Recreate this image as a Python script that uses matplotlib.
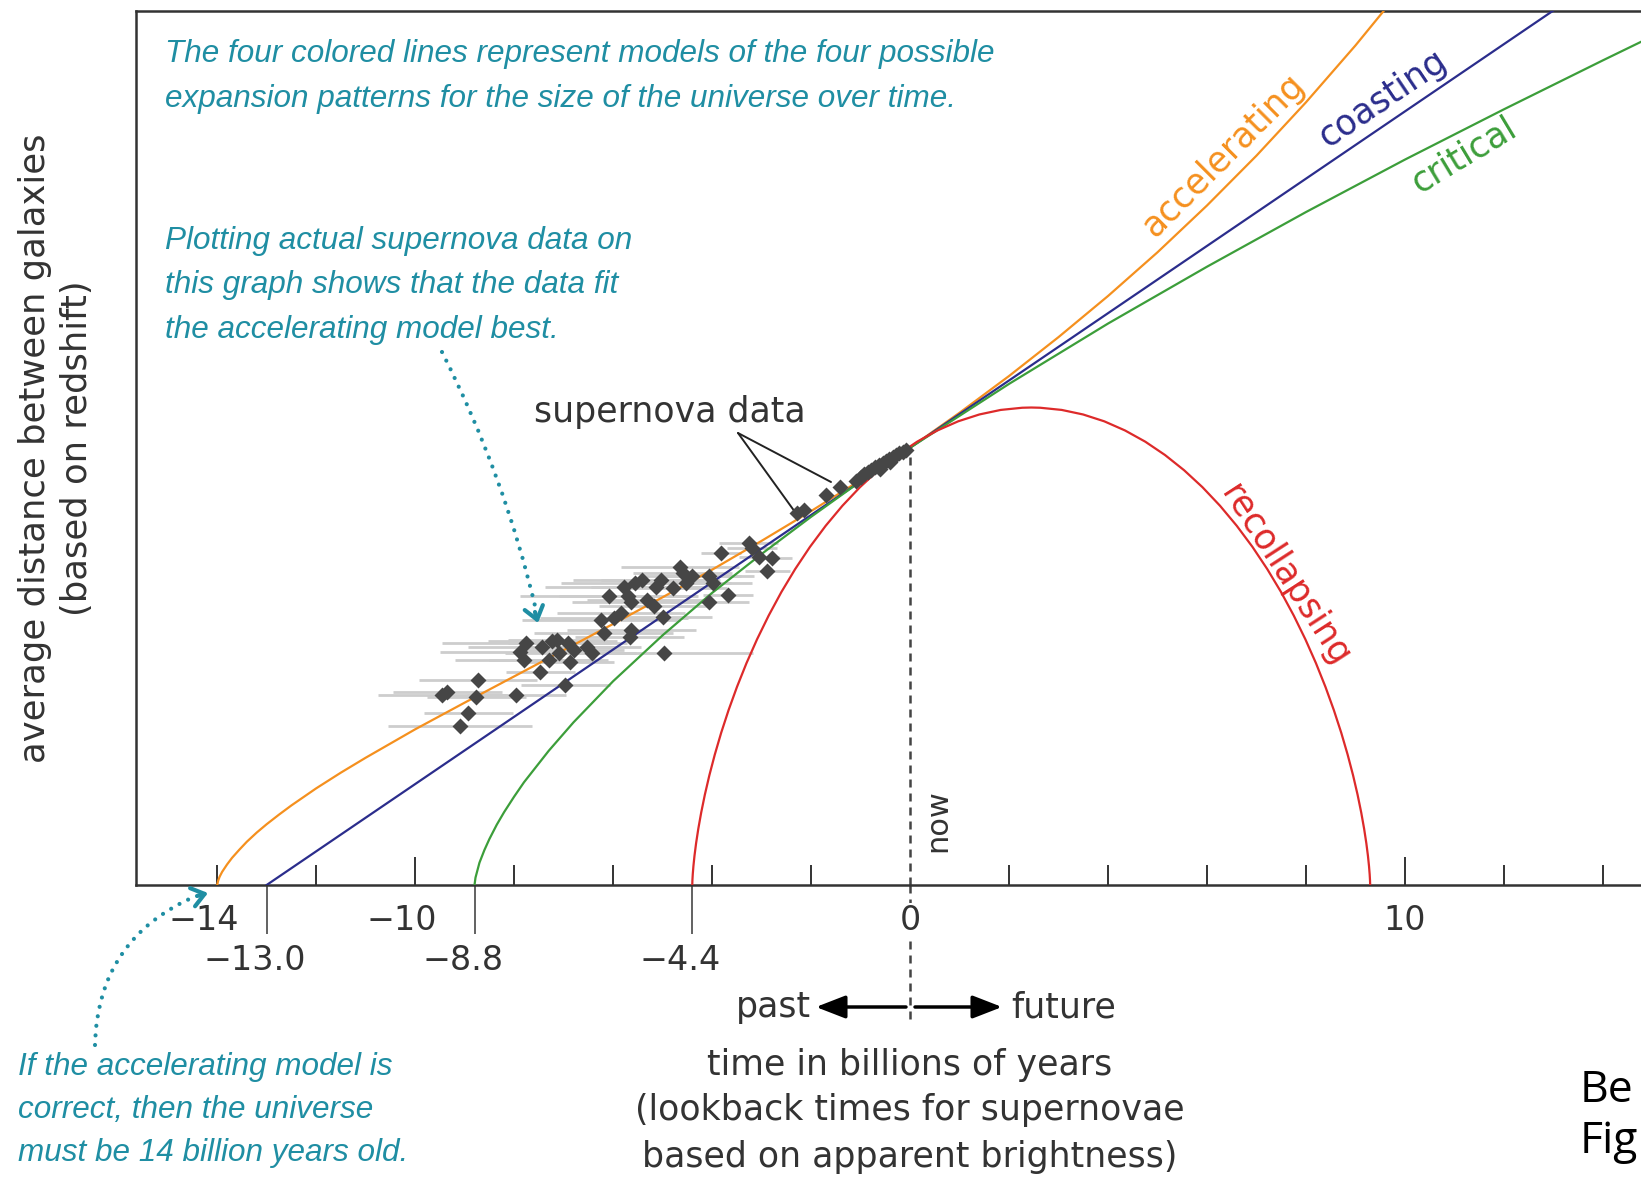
import matplotlib
matplotlib.use("Agg")
import matplotlib.pyplot as plt
from matplotlib.patches import FancyArrowPatch
from matplotlib.transforms import offset_copy
from matplotlib import font_manager

W, H = 1641, 1179

# time (billions of years) and relative distance
acc_t = [-14, -13.98, -13.95, -13.9, -13.8, -13.7, -13.55, -13.4, -13.2, -13, -12.75, -12.5,
         -12, -11.5, -11, -10, -9, -8, -7, -6, -5, -4, -3, -2, -1, 0, 1, 2, 3, 4, 5, 6, 7, 8,
         9, 9.6]
acc_a = [0, 0.010, 0.019, 0.030, 0.047, 0.062, 0.081, 0.099, 0.120, 0.139, 0.161, 0.182,
         0.221, 0.257, 0.291, 0.356, 0.417, 0.477, 0.537, 0.597, 0.658, 0.721, 0.787, 0.855,
         0.926, 1.0, 1.080, 1.164, 1.253, 1.347, 1.447, 1.554, 1.668, 1.790, 1.920, 2.003]

coast_t = [-13, 13]
coast_a = [0, 2.0]

crit_t = [-8.8, -8.78, -8.7, -8.6, -8.5, -8.35, -8.2, -8.0, -7.8, -7.3, -6.8, -6, -5, -4, -3,
          -2, -1, 0, 2, 4, 6, 8, 10, 12, 14, 15]
crit_a = [0, 0.017, 0.051, 0.080, 0.105, 0.138, 0.167, 0.202, 0.235, 0.307, 0.372, 0.466,
          0.571, 0.668, 0.757, 0.842, 0.923, 1.0, 1.146, 1.284, 1.414, 1.539, 1.659, 1.774,
          1.886, 1.941]

rec_t = [-4.4, -4.3996, -4.3971, -4.3902, -4.3769, -4.3552, -4.3229, -4.2784, -4.2198,
         -4.1457, -4.0544, -3.9448, -3.8158, -3.6666, -3.4963, -3.3045, -3.0911, -2.8558,
         -2.5990, -2.3209, -2.0223, -1.7038, -1.3665, -1.0116, -0.6405, -0.2547, 0.1442,
         0.5543, 0.9737, 1.4004, 1.8324, 2.2674, 2.4487, 2.6299, 3.0649, 3.4969, 3.9236,
         4.3430, 4.7531, 5.1520, 5.5378, 5.9089, 6.2638, 6.6011, 6.9196, 7.2182, 7.4963,
         7.7531, 7.9884, 8.2018, 8.3936, 8.5639, 8.7131, 8.8421, 8.9517, 9.0430, 9.1171,
         9.1757, 9.2202, 9.2525, 9.2742, 9.2875, 9.2944, 9.2969, 9.2973]
rec_a = [0, 0.0027, 0.0109, 0.0244, 0.0431, 0.0668, 0.0954, 0.1284, 0.1656, 0.2066, 0.2510,
         0.2983, 0.3482, 0.3999, 0.4532, 0.5074, 0.5619, 0.6163, 0.6701, 0.7225, 0.7732,
         0.8216, 0.8673, 0.9098, 0.9486, 0.9834, 1.0139, 1.0396, 1.0605, 1.0761, 1.0865,
         1.0915, 1.0920, 1.0915, 1.0865, 1.0761, 1.0605, 1.0396, 1.0139, 0.9834, 0.9486,
         0.9098, 0.8673, 0.8216, 0.7732, 0.7225, 0.6701, 0.6163, 0.5619, 0.5074, 0.4532,
         0.3999, 0.3482, 0.2983, 0.2510, 0.2066, 0.1656, 0.1284, 0.0954, 0.0668, 0.0431,
         0.0244, 0.0109, 0.0027, 0]

sn_t = [-9.45, -9.35, -8.73, -8.76, -8.93, -9.09, -7.96, -7.47, -6.97, -7.89, -7.75, -7.79,
        -7.44, -7.30, -7.23, -7.13, -7.09, -6.92, -6.88, -6.78, -6.53, -6.43, -6.25, -6.19,
        -6.08, -5.98, -5.84, -5.77, -5.70, -5.63, -5.63, -5.66, -5.56, -5.42, -5.32, -5.18,
        -5.14, -5.04, -5.00, -4.97, -4.79, -4.65, -4.59, -4.52, -4.41, -4.06, -3.99, -4.06,
        -3.68, -3.82, -3.26, -3.19, -3.05, -2.78, -2.88, -2.29, -2.15, -1.70, -1.42,
        -1.10, -1.00, -0.92, -0.85, -0.78, -0.70, -0.62, -0.60, -0.55, -0.48, -0.42, -0.40,
        -0.35, -0.28, -0.22, -0.15, -0.08]
sn_a = [0.435, 0.442, 0.469, 0.431, 0.393, 0.364, 0.435, 0.487, 0.458, 0.534, 0.553, 0.515,
        0.545, 0.515, 0.557, 0.561, 0.530, 0.553, 0.511, 0.538, 0.545, 0.530, 0.606, 0.576,
        0.660, 0.610, 0.621, 0.682, 0.660, 0.648, 0.584, 0.568, 0.690, 0.698, 0.652, 0.637,
        0.682, 0.698, 0.614, 0.530, 0.679, 0.728, 0.713, 0.690, 0.706, 0.706, 0.690, 0.648,
        0.664, 0.759, 0.782, 0.770, 0.751, 0.747, 0.717, 0.850, 0.858, 0.892, 0.911,
        0.925, 0.932, 0.940, 0.945, 0.948, 0.955, 0.960, 0.952, 0.966, 0.970, 0.975, 0.968,
        0.978, 0.983, 0.987, 0.990, 0.995]
sn_err = [1.3, 1.1, 1.2, 1.0, 0.9, 1.45, 1.0, 0.7, 0.9, 1.6, 1.7, 1.4, 1.5, 1.2, 1.3, 1.0,
          1.1, 1.2, 0.9, 1.0, 1.1, 0.9, 1.6, 1.4, 1.8, 1.5, 1.3, 1.6, 1.4, 1.2, 1.3, 1.1, 1.5,
          1.4, 1.2, 1.1, 1.3, 1.2, 1.0, 1.8, 1.1, 1.2, 1.0, 0.9, 1.0, 0.9, 0.8, 0.8, 0.5, 0.4,
          0.6, 0.5, 0.4, 0.4, 0.45, 0.1, 0.1, 0.1, 0.1,
          0, 0, 0, 0, 0, 0, 0, 0, 0, 0, 0, 0, 0, 0, 0, 0, 0]

row1_ticks = [-14, -10, 0, 10]
row1_labels = ["\u221214", "\u221210", "0", "10"]
row2_ticks = [-13.0, -8.8, -4.4]
row2_labels = ["\u221213.0", "\u22128.8", "\u22124.4"]
minor_ticks = [-14, -12, -8, -6, -4, -2, 2, 4, 6, 8, 12, 14]
major_ticks = [-10, 10]

TEAL = "#1f8ea3"
GREY = "#333333"
names = {f.name for f in font_manager.fontManager.ttflist}
teal_font = "Liberation Sans Narrow" if "Liberation Sans Narrow" in names else "Liberation Sans"
teal_size = 24 if teal_font == "Liberation Sans Narrow" else 22.7
plt.rcParams["font.family"] = ["DejaVu Sans"]


def px(x, y):
    return (x / W, 1 - y / H)


fig = plt.figure(figsize=(W / 100, H / 100), dpi=100)
ax = fig.add_axes([136 / W, 1 - 885 / H, 1 - 136 / W, (885 - 10.5) / H])
ax.set_xlim(-15.64, 14.77)
ax.set_ylim(0, 2.0)
for s in ["left", "bottom", "top"]:
    ax.spines[s].set_color(GREY)
    ax.spines[s].set_linewidth(1.8)
ax.spines["right"].set_visible(False)
ax.set_yticks([])
ax.set_xticks(major_ticks)
ax.set_xticks(minor_ticks, minor=True)
ax.tick_params(which="major", direction="in", length=20, width=1.4, color=GREY, labelbottom=False)
ax.tick_params(which="minor", direction="in", length=14.5, width=1.4, color=GREY)

sec = ax.secondary_xaxis("bottom")
sec.set_xticks(row2_ticks)
sec.tick_params(direction="out", length=35, width=1.3, color="#555555", labelbottom=False)
sec.spines["bottom"].set_visible(False)

# model curves
ax.plot(acc_t, acc_a, color="#f5901e", lw=1.6, zorder=3)
ax.plot(coast_t, coast_a, color="#2b2d8c", lw=1.6, zorder=3)
ax.plot(crit_t, crit_a, color="#3c9e3a", lw=1.6, zorder=3)
ax.plot(rec_t, rec_a, color="#dd2a2a", lw=1.6, zorder=3)

# supernova data
ax.errorbar(sn_t, sn_a, xerr=sn_err, fmt="none", ecolor="#cdcdcd", elinewidth=2, zorder=1)
ax.plot(sn_t, sn_a, "D", color="#464646", ms=8.5, mec="none", zorder=4)

# "now" line
ax.plot([0, 0], [0, 1.0], color="#444444", lw=1.8, linestyle=(0, (3.2, 2.4)), zorder=2)
ax.plot([0, 0], [0, -0.154], transform=ax.get_xaxis_transform(), clip_on=False,
        color="#444444", lw=1.8, linestyle=(0, (3.2, 2.4)))

# tick labels
for t, lab in zip(row1_ticks, row1_labels):
    dx = -13 if t < 0 else 0
    tr = offset_copy(ax.get_xaxis_transform(), fig=fig, x=dx, y=-36, units="dots")
    ax.text(t, 0, lab, transform=tr, ha="center", va="center", fontsize=24, color=GREY,
            bbox=dict(facecolor="white", edgecolor="none", pad=1) if t == 0 else None)
for t, lab in zip(row2_ticks, row2_labels):
    tr = offset_copy(ax.get_xaxis_transform(), fig=fig, x=-12, y=-75, units="dots")
    ax.text(t, 0, lab, transform=tr, ha="center", va="center", fontsize=24, color=GREY)

# curve labels
fig.text(*px(1224, 155), "accelerating", rotation=45, color="#f5901e", fontsize=25,
         ha="center", va="center", rotation_mode="anchor")
fig.text(*px(1383, 99), "coasting", rotation=34, color="#2b2d8c", fontsize=25,
         ha="center", va="center", rotation_mode="anchor")
fig.text(*px(1464, 155), "critical", rotation=31, color="#3c9e3a", fontsize=25,
         ha="center", va="center", rotation_mode="anchor")
fig.text(*px(1285, 576), "recollapsing", rotation=-57, color="#dd2a2a", fontsize=25,
         ha="center", va="center", rotation_mode="anchor")
fig.text(*px(938, 821), "now", rotation=90, color=GREY, fontsize=22, ha="center", va="center")

# axis titles
fig.text(*px(35, 448), "average distance between galaxies", rotation=90, fontsize=25.5,
         color=GREY, ha="center", va="center")
fig.text(*px(77, 448), "(based on redshift)", rotation=90, fontsize=25.5,
         color=GREY, ha="center", va="center")
for y, s in zip([1065, 1110, 1157], ["time in billions of years",
                                     "(lookback times for supernovae",
                                     "based on apparent brightness)"]):
    fig.text(*px(910, y), s, fontsize=25, color=GREY, ha="center", va="center")

fig.text(*px(811, 1007), "past", fontsize=25, color=GREY, ha="right", va="center")
fig.text(*px(1011, 1007), "future", fontsize=25, color=GREY, ha="left", va="center")
arr = dict(arrowstyle="-|>,head_length=0.9,head_width=0.35", color="black", lw=2.5,
           mutation_scale=20, shrinkA=0, shrinkB=0)
fig.add_artist(FancyArrowPatch(px(906, 1007), px(816, 1007), transform=fig.transFigure, **arr))
fig.add_artist(FancyArrowPatch(px(915, 1007), px(1002, 1007), transform=fig.transFigure, **arr))

# supernova data label
fig.text(*px(670, 412), "supernova data", fontsize=25, color=GREY, ha="center", va="center")
for end in [(795, 512), (831, 482)]:
    ax.annotate("", xy=px(*end), xycoords="figure fraction", xytext=px(738, 433),
                textcoords="figure fraction",
                arrowprops=dict(arrowstyle="-", color="#222222", lw=1.4, shrinkA=0, shrinkB=0))

# teal notes
tfont = dict(family=teal_font, style="italic", fontsize=teal_size, color=TEAL,
             ha="left", va="center")
fig.text(*px(165, 54), "The four colored lines represent models of the four possible", **tfont)
fig.text(*px(165, 99), "expansion patterns for the size of the universe over time.", **tfont)
for y, s in zip([241, 285, 330], ["Plotting actual supernova data on",
                                  "this graph shows that the data fit",
                                  "the accelerating model best."]):
    fig.text(*px(165, y), s, **tfont)
for y, s in zip([1067, 1110, 1153], ["If the accelerating model is",
                                     "correct, then the universe",
                                     "must be 14 billion years old."]):
    fig.text(*px(18, y), s, **tfont)

dots = dict(arrowstyle="-", color=TEAL, lw=3, linestyle=(0, (0.01, 2.3)), capstyle="round",
            shrinkA=0, shrinkB=0)
ax.annotate("", xy=px(536, 610), xycoords="figure fraction", xytext=px(442, 352),
            textcoords="figure fraction", arrowprops=dict(connectionstyle="arc3,rad=-0.06", **dots))
ax.annotate("", xy=px(196, 896), xycoords="figure fraction", xytext=px(95, 1045),
            textcoords="figure fraction", arrowprops=dict(connectionstyle="arc3,rad=-0.32", **dots))
head = dict(arrowstyle="->,head_length=0.6,head_width=0.45", color=TEAL, lw=3,
            mutation_scale=15, shrinkA=0, shrinkB=0)
ax.annotate("", xy=px(538, 623), xycoords="figure fraction", xytext=px(535, 612),
            textcoords="figure fraction", arrowprops=head)
ax.annotate("", xy=px(208, 893), xycoords="figure fraction", xytext=px(197, 896),
            textcoords="figure fraction", arrowprops=head)

# caption fragment at right edge
fig.text(*px(1580, 1091), "Be", fontsize=32, family="Open Sans", color="black", ha="left", va="center")
fig.text(*px(1580, 1142), "Fig", fontsize=32, family="Open Sans", color="black", ha="left", va="center")

fig.savefig("out.png", dpi=100)
